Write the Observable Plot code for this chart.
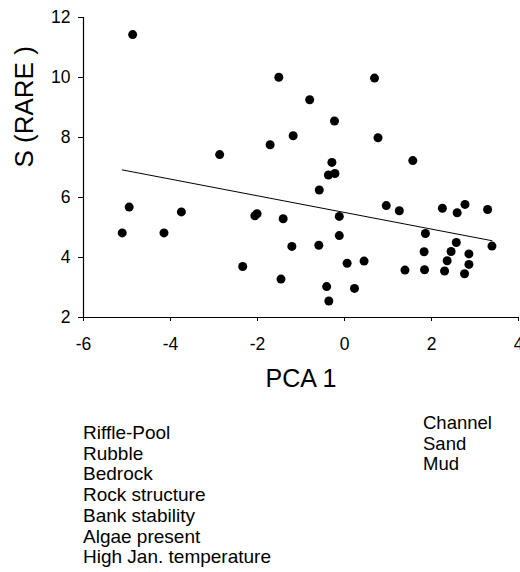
<!DOCTYPE html>
<html>
<head>
<meta charset="utf-8">
<script src="https://cdn.jsdelivr.net/npm/d3@7"></script>
<script src="https://cdn.jsdelivr.net/npm/@observablehq/plot@0.6"></script>
<style>
  html, body { margin: 0; padding: 0; background: #fff; }
  #wrap { position: relative; width: 520px; height: 572px; overflow: hidden; font-family: "Liberation Sans", Arial, sans-serif; }
  #chart { position: absolute; left: 0; top: 0; }
  .list { position: absolute; line-height: 20.7px; color: #000; white-space: nowrap; }
  #left { left: 83px; top: 423px; font-size: 19px; }
  #right { left: 423px; top: 413px; font-size: 18.5px; }
</style>
</head>
<body>
<div id="wrap">
  <div id="chart"></div>
  <div id="left" class="list"></div>
  <div id="right" class="list"></div>
</div>
<script>
const pcaX = [
  -4.87, -1.51, -1.71, -1.18, -2.87, 0.69, -0.80, -0.23, 0.77, 1.57,
  -0.29, -0.37, -0.22, -5.11, -4.95, -4.15, -3.75, -2.34, -2.06, -2.01,
  -1.41, -1.21, -1.46, -0.58, 0.96, 1.26, 2.25, 2.59, 2.77, 3.29,
  -0.12, -0.12, -0.59, 1.86, 2.57, 3.39, 1.83, 2.45, 2.86, 2.36,
  2.86, 0.45, 0.06, 1.39, 1.84, 2.30, 2.76, -0.41, 0.23, -0.36
];
const sRare = [
  11.43, 10.01, 7.76, 8.06, 7.43, 9.98, 9.26, 8.55, 7.99, 7.23,
  7.17, 6.75, 6.80, 4.82, 5.68, 4.82, 5.52, 3.70, 5.39, 5.46,
  5.29, 4.37, 3.28, 6.25, 5.73, 5.56, 5.64, 5.49, 5.77, 5.60,
  5.37, 4.73, 4.41, 4.80, 4.50, 4.38, 4.19, 4.20, 4.12, 3.89,
  3.77, 3.88, 3.81, 3.58, 3.59, 3.55, 3.46, 3.03, 2.97, 2.55
];
const fitX = [-5.11, 3.39];
const fitY = [6.92, 4.56];
const xTicks = [-6, -4, -2, 0, 2, 4];
const yTicks = [2, 4, 6, 8, 10, 12];
const xLabel = "PCA 1";
const yLabel = "S (RARE )";
const leftList = ["Riffle-Pool", "Rubble", "Bedrock", "Rock structure", "Bank stability", "Algae present", "High Jan. temperature"];
const rightList = ["Channel", "Sand", "Mud"];

const points = pcaX.map((x, i) => ({x, y: sRare[i]}));
const fit = fitX.map((x, i) => ({x, y: fitY[i]}));

const chart = Plot.plot({
  width: 520,
  height: 400,
  marginLeft: 83,
  marginRight: 2,
  marginTop: 17,
  marginBottom: 83,
  style: { fontFamily: "'Liberation Sans', Arial, sans-serif", fontSize: "17.5px", color: "#000", background: "#fff" },
  x: { domain: [-6, 4], ticks: xTicks, tickSize: 4, tickPadding: 16, label: null, tickFormat: d => d < 0 ? "-" + Math.abs(d) : String(d) },
  y: { domain: [2, 12], ticks: yTicks, tickSize: 5, tickPadding: 8, label: null },
  marks: [
    Plot.ruleX([-6], { stroke: "#000", strokeWidth: 1.2 }),
    Plot.ruleY([2], { stroke: "#000", strokeWidth: 1.2 }),
    Plot.line(fit, { x: "x", y: "y", stroke: "#000", strokeWidth: 1 }),
    Plot.dot(points, { x: "x", y: "y", r: 4.5, fill: "#000", stroke: "none" }),
    Plot.text([xLabel], { frameAnchor: "bottom", lineAnchor: "top", dy: 52, fontSize: 25, fill: "#000" }),
    Plot.text([yLabel], { frameAnchor: "left", rotate: -90, lineAnchor: "middle", dx: -59, fontSize: 26, fill: "#000" })
  ]
});
document.getElementById("chart").appendChild(chart);
document.getElementById("left").innerHTML = leftList.map(s => `<div>${s}</div>`).join("");
document.getElementById("right").innerHTML = rightList.map(s => `<div>${s}</div>`).join("");
</script>
</body>
</html>
